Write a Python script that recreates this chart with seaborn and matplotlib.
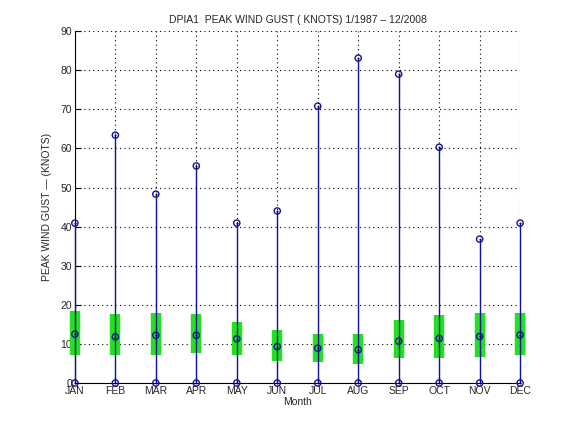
import matplotlib
matplotlib.use("Agg")
import matplotlib.pyplot as plt
import seaborn as sns
import numpy as np
import pandas as pd

months = ["JAN", "FEB", "MAR", "APR", "MAY", "JUN", "JUL", "AUG", "SEP", "OCT", "NOV", "DEC"]
gust_min = [0, 0, 0, 0, 0, 0, 0, 0, 0, 0, 0, 0]
gust_q1 = [7.2, 7.2, 7.2, 7.6, 7.2, 5.7, 5.3, 4.9, 6.5, 6.5, 6.7, 7.2]
gust_median = [12.5, 11.8, 12.2, 12.2, 11.3, 9.3, 8.9, 8.5, 10.7, 11.4, 11.9, 12.3]
gust_q3 = [18.4, 17.6, 18.0, 17.6, 15.6, 13.5, 12.5, 12.5, 16.1, 17.4, 17.9, 17.9]
gust_max = [40.9, 63.4, 48.3, 55.5, 40.9, 44.0, 70.8, 83.1, 79.0, 60.3, 36.8, 40.9]
yticks = [0, 10, 20, 30, 40, 50, 60, 70, 80, 90]

df = pd.DataFrame({"month": months, "pos": np.arange(1, 13),
                   "min": gust_min, "q1": gust_q1, "median": gust_median,
                   "q3": gust_q3, "max": gust_max})

sns.set_style("white")
plt.rcParams['font.family'] = ['Liberation Sans', 'DejaVu Sans']
plt.rcParams['font.size'] = 7.5

fig = plt.figure(figsize=(5.76, 4.32), dpi=100)
ax = fig.add_axes([0.130, 0.1134, 0.773, 0.8146])

navy = "#10109a"
green = "#22e022"

ax.vlines(df["pos"], df["min"], df["max"], color=navy, lw=1.0, zorder=3, clip_on=False)
ax.vlines(df["pos"], df["q1"], df["q3"], color=green, lw=7.5, zorder=2.5, clip_on=False)

long = df.melt(id_vars=["pos"], value_vars=["min", "median", "max"], value_name="val")
sns.scatterplot(data=long, x="pos", y="val", ax=ax, marker="o", s=20,
                facecolor="none", edgecolor=navy, linewidth=1.0, zorder=4, clip_on=False)
sns.scatterplot(data=long, x="pos", y="val", ax=ax, marker=".", s=8,
                color="black", linewidth=0, zorder=5, clip_on=False)

ax.set_xlim(1, 12)
ax.set_ylim(0, 90)
ax.set_xticks(df["pos"])
ax.set_xticklabels(months)
ax.set_yticks(yticks)
ax.grid(True, color="black", linestyle=(0, (1, 3)), linewidth=0.8)
for s in ["top", "right"]:
    ax.spines[s].set_visible(False)
for s in ["left", "bottom"]:
    ax.spines[s].set_color("black")
    ax.spines[s].set_linewidth(0.8)
ax.tick_params(axis="both", direction="in", length=4, width=0.8, color="black",
               labelsize=7.5, pad=2, left=True, bottom=True)
ax.set_xlabel("Month", fontsize=7.5, labelpad=1)
ax.set_ylabel("PEAK WIND GUST \u2014 (KNOTS)", fontsize=7.5, labelpad=6)
ax.set_title("DPIA1  PEAK WIND GUST ( KNOTS) 1/1987 \u2013 12/2008", fontsize=7.5, pad=6)

fig.savefig("out.png", dpi=100)
